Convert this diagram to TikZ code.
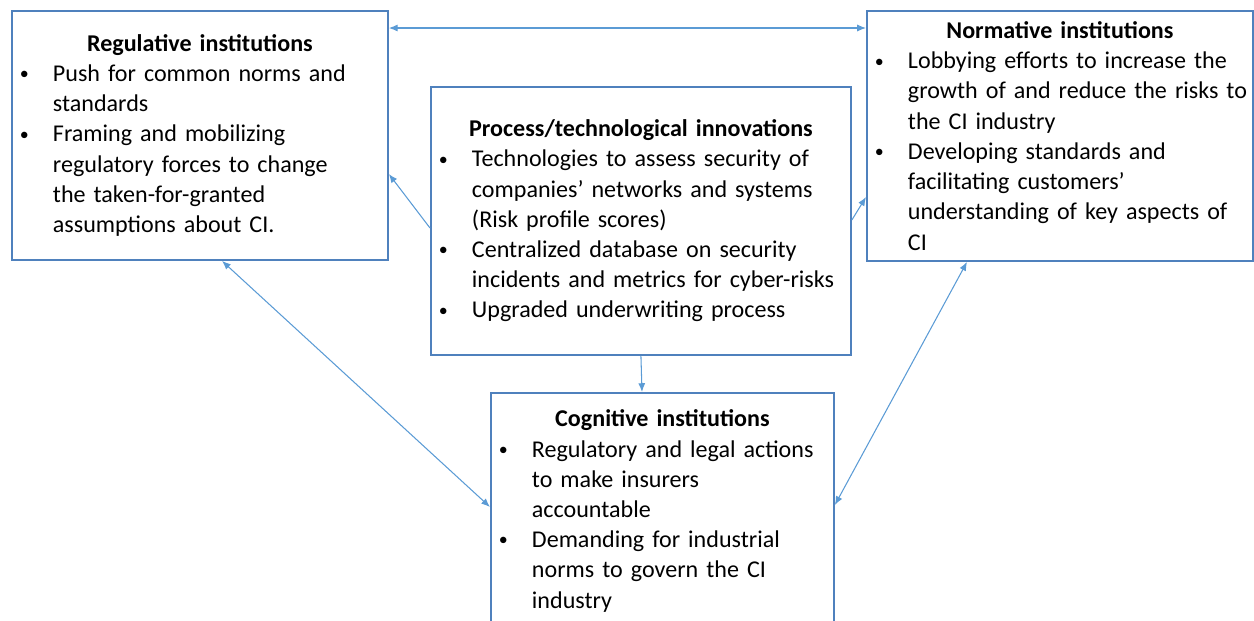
\documentclass[tikz,border=0pt]{standalone}
\usepackage{fontspec}
\setmainfont{Carlito}
\usetikzlibrary{calc,arrows.meta}

\definecolor{boxblue}{RGB}{79,129,189}
\definecolor{linkblue}{RGB}{91,155,213}

% one line per call: \li starts a bullet, \nl continues it
\newcommand{\li}[1]{\par\noindent\makebox[0.66cm][l]{\raisebox{0.15ex}{\scalebox{0.75}{\textbullet}}}\mbox{#1}}
\newcommand{\nl}[1]{\par\noindent\hspace*{0.66cm}\mbox{#1}}
\newcommand{\boxtitle}[1]{{\bfseries\centering #1\par}}

\tikzset{
  inst/.style={draw=boxblue, line width=1.1pt, anchor=north west, inner xsep=0.16cm,
    inner ysep=0pt, align=left, font=\fontsize{13.7}{17.2}\selectfont},
  link/.style={linkblue, line width=0.6pt},
  >={Latex[length=5pt,width=4pt]}
}

\begin{document}
\begin{tikzpicture}[x=0.02cm, y=-0.02cm]
\useasboundingbox (0,0) rectangle (1254,620);

\node[inst, text width=7.2cm, minimum height=4.98cm] (reg) at (11,10) {%
\boxtitle{Regulative institutions}
\li{Push for common norms and}
\nl{standards}
\li{Framing and mobilizing}
\nl{regulatory forces to change}
\nl{the taken-for-granted}
\nl{assumptions about CI.}};

\node[inst, text width=7.4cm, minimum height=5cm] (norm) at (866,10) {%
\boxtitle{Normative institutions}
\li{Lobbying efforts to increase the}
\nl{growth of and reduce the risks to}
\nl{the CI industry}
\li{Developing standards and}
\nl{facilitating customers’}
\nl{understanding of key aspects of}
\nl{CI}};

\node[inst, text width=8.08cm, minimum height=5.36cm] (proc) at (430,86) {%
\boxtitle{Process/technological innovations}
\li{Technologies to assess security of}
\nl{companies’ networks and systems}
\nl{(Risk profile scores)}
\li{Centralized database on security}
\nl{incidents and metrics for cyber-risks}
\li{Upgraded underwriting process}};

\node[inst, text width=6.54cm, minimum height=4.72cm] (cog) at (490,392) {%
\boxtitle{Cognitive institutions}
\li{Regulatory and legal actions}
\nl{to make insurers}
\nl{accountable}
\li{Demanding for industrial}
\nl{norms to govern the CI}
\nl{industry}};

\draw[link, <->] ($(reg.north east)+(0,18)$) -- ($(norm.north west)+(0,18)$);
\draw[link, ->] ($(proc.north west)+(0,142)$) -- ($(reg.north east)+(0,164)$);
\draw[link, ->] ($(proc.north east)+(0,134)$) -- ($(norm.north west)+(0,187)$);
\draw[link, ->] (proc.south) -- ($(cog.north west)+(152,0)$);
\draw[link, <->] ($(reg.south west)+(211,0)$) -- ($(cog.north west)+(0,115)$);
\draw[link, <->] ($(norm.south west)+(101,0)$) -- ($(cog.north east)+(0,113)$);
\end{tikzpicture}
\end{document}
